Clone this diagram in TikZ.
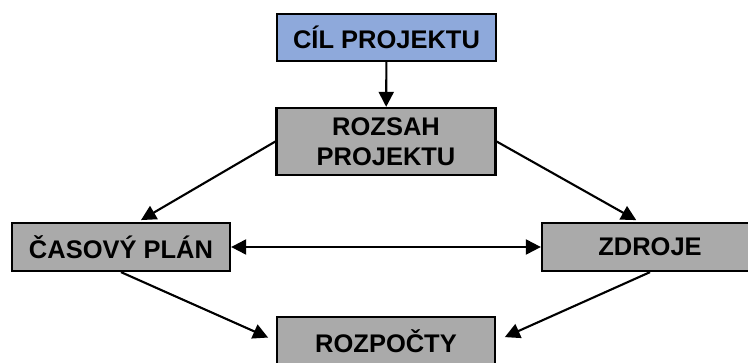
\documentclass[tikz,border=0pt]{standalone}
\usepackage{fontspec}
\setmainfont{Liberation Sans}
\usetikzlibrary{arrows.meta}
\definecolor{boxgray}{RGB}{170,170,170}
\definecolor{boxblue}{RGB}{142,169,219}
\begin{document}
\begin{tikzpicture}[scale=1,
                    box/.style={draw, line width=1.3pt, fill=boxgray, minimum width=4.38cm,
                                minimum height=0.96cm, align=center, font=\bfseries\fontsize{14.5}{17}\selectfont,
                                inner sep=0pt},
                    tip/.style={Triangle[length=0.3cm,width=0.3cm]},
                    arrow/.style={-{Triangle[length=0.3cm,width=0.3cm]}, line width=1.2pt}]
\useasboundingbox (0,0) rectangle (14.96,7.24);
\clip (0,0) rectangle (14.96,7.24);
\node[box, fill=boxblue, minimum height=0.94cm] (cil) at (7.73,6.49) {CÍL PROJEKTU};
\node[box, minimum height=1.34cm] (rozsah) at (7.72,4.41) {ROZSAH\\PROJEKTU};
\node[box, minimum width=4.36cm] (casovy) at (2.42,2.30) {ČASOVÝ PLÁN};
\node[box, minimum width=4.32cm] (zdroje) at (13.0,2.30) {ZDROJE};
\node[box, minimum width=4.36cm] (rozpocty) at (7.72,0.42) {ROZPOČTY};
\draw[arrow] (cil) -- (rozsah);
\draw[arrow, shorten >=2pt] (rozsah.west) -- (casovy.56);
\draw[arrow, shorten >=2pt] (rozsah.east) -- (zdroje.113);
\draw[line width=1.2pt, {Triangle[length=0.3cm,width=0.3cm]}-{Triangle[length=0.3cm,width=0.3cm]}] (casovy) -- (zdroje);
\draw[arrow, shorten >=0.17cm] (casovy.south) -- (rozpocty.west);
\draw[arrow, shorten >=0.19cm] (zdroje.south) -- (rozpocty.east);
\end{tikzpicture}
\end{document}
